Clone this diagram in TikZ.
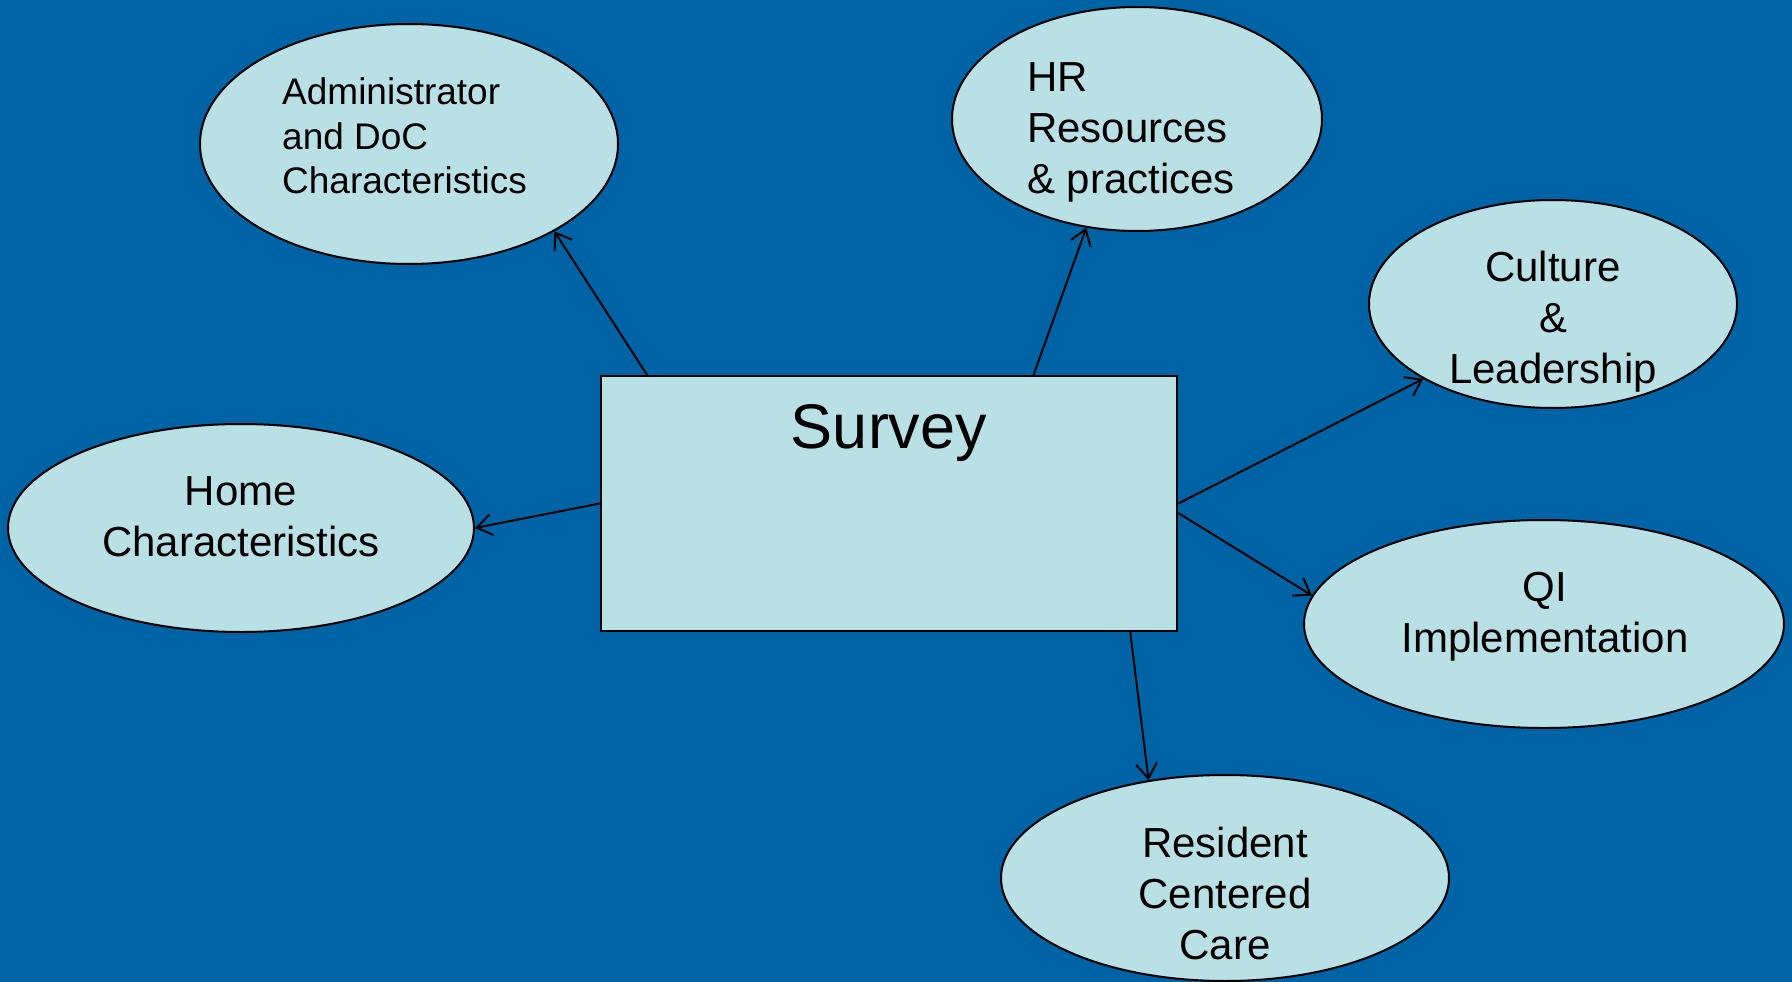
\documentclass[tikz,border=0pt]{standalone}
\usepackage{fontspec}
\setmainfont{Liberation Sans}
\usetikzlibrary{arrows.meta,shapes.geometric,calc}
\definecolor{bgblue}{RGB}{0,99,166}
\definecolor{lightfill}{RGB}{185,224,228}
\newcommand{\admfont}{\fontsize{37}{44.5}\selectfont}
\newcommand{\lblfont}{\fontsize{42}{51}\selectfont}
\newcommand{\survfont}{\fontsize{63}{75}\selectfont}
\begin{document}
\begin{tikzpicture}[x=1pt,y=-1pt,
  oval/.style={ellipse, draw=black, line width=2pt, fill=lightfill, inner sep=0pt},
  surveybox/.style={rectangle, draw=black, line width=2.5pt, fill=lightfill, inner sep=0pt, minimum width=576pt, minimum height=255pt},
  txt/.style={inner sep=0pt, text=black},
  conn/.style={line width=2pt, draw=black, -{Straight Barb[length=15pt,width=21pt]}}
]
\useasboundingbox (0,0) rectangle (1792,982);
\fill[bgblue] (0,0) rectangle (1792,982);

% ellipses
\node[oval, minimum width=418pt, minimum height=240pt] (adm) at (409,144) {};
\node[oval, minimum width=370pt, minimum height=224pt] (hr) at (1137,119) {};
\node[oval, minimum width=368pt, minimum height=208pt] (cult) at (1553,304) {};
\node[oval, minimum width=480pt, minimum height=208pt] (qi) at (1544,624) {};
\node[oval, minimum width=448pt, minimum height=206pt] (res) at (1225,878) {};
\node[oval, minimum width=466pt, minimum height=208pt] (home) at (241,528) {};

% central box
\node[surveybox] (survey) at (889,503.5) {};

% texts
\node[txt, anchor=base west] (admT) at (282,105) {\admfont\begin{tabular}[t]{@{}l@{}}Administrator\\and DoC\\Characteristics\end{tabular}};
\node[txt, anchor=base west] (hrT) at (1027,92) {\lblfont\begin{tabular}[t]{@{}l@{}}HR\\Resources\\\& practices\end{tabular}};
\node[txt, anchor=base] (cultT) at (1553,281) {\lblfont\begin{tabular}[t]{@{}c@{}}Culture\\\&\\Leadership\end{tabular}};
\node[txt, anchor=base] (qiT) at (1545,601) {\lblfont\begin{tabular}[t]{@{}c@{}}QI\\Implementation\end{tabular}};
\node[txt, anchor=base] (resT) at (1225,857) {\lblfont\begin{tabular}[t]{@{}c@{}}Resident\\Centered\\Care\end{tabular}};
\node[txt, anchor=base] (homeT) at (241,505) {\lblfont\begin{tabular}[t]{@{}c@{}}Home\\Characteristics\end{tabular}};
\node[txt, anchor=base] (survT) at (889,448) {\survfont Survey};

% connectors
\draw[conn] ($(survey.north west)!0.0816!(survey.north east)$) -- (adm.-31.5);
\draw[conn] ($(survey.north west)!0.75!(survey.north east)$) -- (hr.-115.8);
\draw[conn] (survey.east) -- (cult.-150.5);
\draw[conn] ($(survey.north east)!0.537!(survey.south east)$) -- (qi.173.8);
\draw[conn] ($(survey.south west)!0.917!(survey.south east)$) -- (res.128.5);
\draw[conn] (survey.west) -- (home.east);
\end{tikzpicture}
\end{document}
